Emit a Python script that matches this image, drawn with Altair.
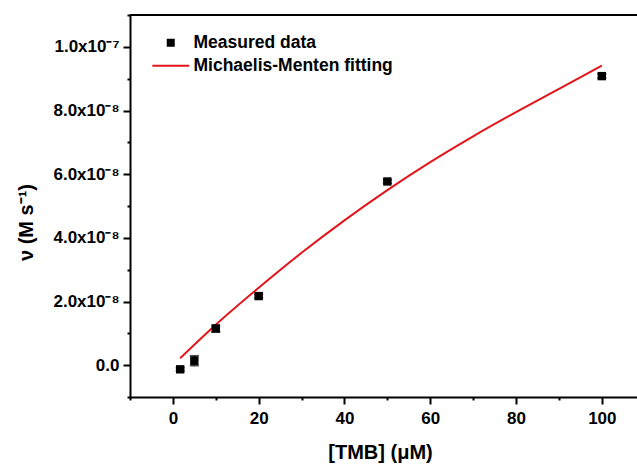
import altair as alt
import pandas as pd

# Measured data
tmb = [1.7, 5, 10, 20, 50, 100]
rate = [-1.3e-9, 1.4e-9, 1.15e-8, 2.17e-8, 5.77e-8, 9.08e-8]
rate_err = [0.5e-9, 1.5e-9, 1.0e-9, 0.6e-9, 0.5e-9, 0.7e-9]

# Michaelis-Menten fitting curve
fit_x = [1.7, 10, 20, 30, 40, 50, 60, 70, 80, 90, 100]
fit_y = [2.2e-9, 1.27e-8, 2.43e-8, 3.53e-8, 4.55e-8, 5.50e-8, 6.38e-8, 7.19e-8, 7.95e-8, 8.68e-8, 9.41e-8]

series = ["Measured data", "Michaelis-Menten fitting"]
x_ticks = [-10, 0, 10, 20, 30, 40, 50, 60, 70, 80, 90, 100]
y_ticks = [i * 1e-8 for i in range(-1, 12)]

FONT = "Liberation Sans"
RED = "#e3151a"
W, H = 507, 382

meas = pd.DataFrame({
    "x": tmb, "y": rate,
    "lo": [v - e for v, e in zip(rate, rate_err)],
    "hi": [v + e for v, e in zip(rate, rate_err)],
    "series": series[0],
})
fit = pd.DataFrame({"x": fit_x, "y": fit_y, "series": series[1]})

xscale = alt.Scale(domain=[-10, 108.2], nice=False, zero=False)
yscale = alt.Scale(domain=[-1e-8, 1.1e-7], nice=False, zero=False)

AX = dict(
    domainColor="black", domainWidth=2, tickColor="black", tickWidth=2,
    labelFont=FONT, labelFontSize=17, labelFontWeight="bold", labelColor="black",
    titleFont=FONT, titleFontSize=20, titleFontWeight="bold", titleColor="black",
    grid=False,
)

x_axis = alt.Axis(
    values=x_ticks,
    labelExpr="datum.value % 20 == 0 ? datum.value : ''",
    tickSize={"condition": {"test": "datum.value % 20 != 0", "value": 3}, "value": 7},
    titleX=250, titleY=55, titleAlign="center", titleBaseline="middle",
    labelPadding=6, **AX,
)
y_axis = alt.Axis(
    values=y_ticks,
    labelExpr=(
        "round(datum.value*1e8) % 2 != 0 ? '' : "
        "(round(datum.value*1e8) == 0 ? '0.0' : "
        "(round(datum.value*1e8) < 10 ? format(round(datum.value*1e8), '.1f') + 'x10⁻⁸' : "
        "format(round(datum.value*1e8)/10, '.1f') + 'x10⁻⁷'))"
    ),
    tickSize={"condition": {"test": "round(datum.value*1e8) % 2 != 0", "value": 3}, "value": 7},
    titleX=-104, titleY=207, titleAngle=270, titleAlign="center", titleBaseline="middle",
    labelPadding=4, **AX,
)

X_T = "[TMB] (μM)"
Y_T = "ν (M s⁻¹)"

LEG = dict(
    title=None, orient="none", legendX=32, legendY=19,
    labelFont=FONT, labelFontSize=17.5, labelFontWeight="bold", labelColor="black",
    labelOffset=14, labelLimit=0, symbolSize=64, symbolOpacity=1, symbolStrokeWidth=0,
    rowPadding=4, padding=0, symbolOffset=0,
)
color = alt.Color("series:N", scale=alt.Scale(domain=series, range=["black", RED]),
                  legend=alt.Legend(**LEG))
shape = alt.Shape("series:N",
                  scale=alt.Scale(domain=series, range=["square", "M-4.6,-0.24H4.6V0.24H-4.6Z"]),
                  legend=alt.Legend(**LEG))

line = alt.Chart(fit).mark_line(strokeWidth=2, clip=True, interpolate="monotone").encode(
    x=alt.X("x:Q", scale=xscale, axis=x_axis, title=X_T),
    y=alt.Y("y:Q", scale=yscale, axis=y_axis, title=Y_T),
    color=color,
)

err = alt.Chart(meas).mark_errorbar(
    ticks={"size": 9, "thickness": 2}, rule={"strokeWidth": 2}, color="black"
).encode(
    x=alt.X("x:Q", scale=xscale, axis=x_axis, title=X_T),
    y=alt.Y("lo:Q", scale=yscale, axis=y_axis, title=Y_T),
    y2="hi:Q",
)

pts = alt.Chart(meas).mark_point(filled=True, size=70, opacity=1).encode(
    x=alt.X("x:Q", scale=xscale, axis=x_axis, title=X_T),
    y=alt.Y("y:Q", scale=yscale, axis=y_axis, title=Y_T),
    color=color,
    shape=shape,
)

top = alt.Chart(meas).mark_rule(color="black", strokeWidth=2).encode(
    x=alt.value(0), x2=alt.value(W), y=alt.value(0)
)

chart = alt.layer(line, err, pts, top).properties(
    width=W, height=H,
    padding={"left": 130, "top": 15, "right": 0, "bottom": 72},
    autosize="none",
    background="white",
).configure_view(stroke="transparent")

chart.save("out.html", embed_options={"renderer": "svg", "actions": False})
